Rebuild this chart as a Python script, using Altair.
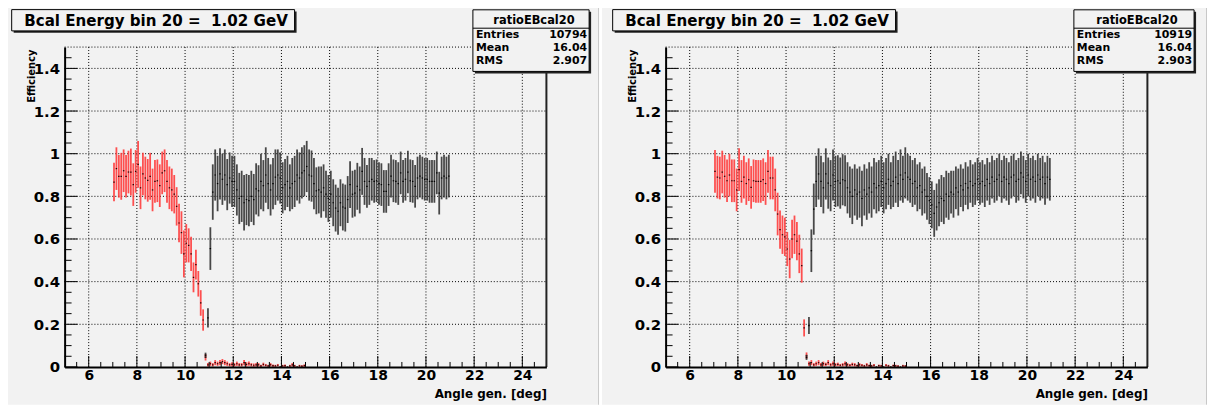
import altair as alt
import pandas as pd

BIN_W = 0.1
X_TICKS = [6, 8, 10, 12, 14, 16, 18, 20, 22, 24]
Y_TICKS = [0, 0.2, 0.4, 0.6, 0.8, 1.0, 1.2, 1.4]
X_DOMAIN = [5, 25]
Y_DOMAIN = [0, 1.5]

TITLES = ["Bcal Energy bin 20 =\u00a0\u00a01.02 GeV", "Bcal Energy bin 20 =\u00a0\u00a01.02 GeV"]
STATS_NAME = ["ratioEBcal20", "ratioEBcal20"]
STATS_LABELS = ["Entries", "Mean", "RMS"]
STATS_VALUES = [["10794", "16.04", "2.907"], ["10919", "16.04", "2.903"]]
X_TITLE = "Angle gen. [deg]"
Y_TITLE = "Efficiency"

# ---------------- left panel ----------------
L_RED_START = 7.05
L_RED = [0.867, 0.93, 0.894, 0.894, 0.92, 0.894, 0.914, 0.914, 0.855, 0.917,
         0.95, 0.84, 0.905, 0.886, 0.875, 0.894, 0.83, 0.87, 0.873, 0.85,
         0.91, 0.92, 0.87, 0.84, 0.83, 0.81, 0.753, 0.675, 0.63, 0.53,
         0.58, 0.57, 0.53, 0.42, 0.48, 0.39, 0.30, 0.22, 0.045,
         0.01, 0.015, 0.01, 0.02, 0.015, 0.02, 0.025, 0.02, 0.015, 0.01,
         0.012, 0.01, 0.015, 0.01, 0.01, 0.02, 0.012, 0.015, 0.01, 0.008,
         0.01, 0.01, 0.005, 0.012, 0.008, 0.005, 0.01, 0.006, 0.005, 0.008,
         0.0, 0.005, 0.006, 0.0, 0.005, 0.01, 0.005, 0.0, 0.005, 0.004, 0.006]
L_RED_ERR = [0.09, 0.1, 0.1, 0.11, 0.1, 0.1, 0.1, 0.11, 0.1, 0.1,
             0.11, 0.1, 0.1, 0.1, 0.1, 0.11, 0.1, 0.1, 0.1, 0.1,
             0.1, 0.1, 0.1, 0.1, 0.1, 0.09, 0.09, 0.09, 0.1, 0.11,
             0.09, 0.08, 0.08, 0.07, 0.07, 0.06, 0.06, 0.05, 0.015,
             0.008, 0.01, 0.008, 0.012, 0.01, 0.012, 0.012, 0.012, 0.01, 0.008,
             0.01, 0.008, 0.01, 0.008, 0.008, 0.012, 0.01, 0.01, 0.008, 0.008,
             0.008, 0.008, 0.005, 0.008, 0.006, 0.005, 0.008, 0.006, 0.005, 0.006,
             0.0, 0.005, 0.006, 0.0, 0.005, 0.008, 0.005, 0.0, 0.005, 0.004, 0.006]
L_BLK_START = 10.85
L_BLK = [0.055, 0.23, 0.555, 0.82, 0.90, 0.86, 0.905, 0.88, 0.90, 0.855,
         0.886, 0.87, 0.87, 0.83, 0.79, 0.80, 0.77, 0.785, 0.78, 0.80,
         0.785, 0.835, 0.826, 0.87, 0.85, 0.90, 0.86, 0.83, 0.86, 0.89,
         0.90, 0.886, 0.84, 0.855, 0.87, 0.84, 0.86, 0.87, 0.90, 0.886,
         0.91, 0.92, 0.94, 0.90, 0.895, 0.86, 0.826, 0.83, 0.82, 0.84,
         0.81, 0.79, 0.81, 0.77, 0.745, 0.73, 0.77, 0.75, 0.745, 0.785,
         0.855, 0.81, 0.815, 0.847, 0.83, 0.917, 0.87, 0.847, 0.87, 0.88,
         0.87, 0.873, 0.86, 0.855, 0.823, 0.823, 0.855, 0.895, 0.873, 0.87,
         0.86, 0.91, 0.87, 0.88, 0.914, 0.873, 0.87, 0.847, 0.886, 0.895,
         0.886, 0.88, 0.88, 0.87, 0.87, 0.87, 0.91, 0.815, 0.886, 0.895,
         0.886, 0.895]
L_BLK_ERR = [0.012, 0.045, 0.1, 0.13, 0.12, 0.13, 0.12, 0.12, 0.12, 0.12,
             0.12, 0.12, 0.12, 0.12, 0.12, 0.12, 0.13, 0.12, 0.12, 0.12,
             0.12, 0.12, 0.12, 0.13, 0.12, 0.13, 0.12, 0.12, 0.12, 0.13,
             0.12, 0.12, 0.12, 0.12, 0.12, 0.11, 0.12, 0.12, 0.12, 0.12,
             0.12, 0.12, 0.12, 0.12, 0.12, 0.12, 0.11, 0.11, 0.12, 0.11,
             0.11, 0.11, 0.11, 0.11, 0.11, 0.11, 0.11, 0.11, 0.11, 0.11,
             0.11, 0.11, 0.11, 0.11, 0.11, 0.11, 0.11, 0.1, 0.11, 0.1,
             0.1, 0.1, 0.1, 0.1, 0.1, 0.1, 0.1, 0.1, 0.1, 0.1,
             0.1, 0.1, 0.1, 0.1, 0.1, 0.1, 0.1, 0.1, 0.1, 0.1,
             0.1, 0.1, 0.1, 0.1, 0.1, 0.1, 0.1, 0.1, 0.1, 0.1,
             0.1, 0.1]

# ---------------- right panel ----------------
R_RED_START = 7.05
R_RED = [0.917, 0.89, 0.886, 0.914, 0.894, 0.873, 0.90, 0.873, 0.873, 0.83,
         0.925, 0.87, 0.89, 0.86, 0.878, 0.842, 0.873, 0.87, 0.87, 0.87,
         0.878, 0.86, 0.917, 0.886, 0.886, 0.83, 0.717, 0.644, 0.62, 0.61,
         0.553, 0.506, 0.60, 0.62, 0.59, 0.53, 0.475, 0.183, 0.053,
         0.015, 0.02, 0.01, 0.015, 0.02, 0.01, 0.015, 0.012, 0.02, 0.01,
         0.015, 0.01, 0.012, 0.008, 0.01, 0.015, 0.01, 0.008, 0.012, 0.01,
         0.006, 0.01, 0.008, 0.005, 0.01, 0.006, 0.005, 0.008, 0.0, 0.006,
         0.005, 0.0, 0.008, 0.005, 0.0, 0.006, 0.005, 0.004, 0.0, 0.005, 0.004]
R_RED_ERR = [0.1, 0.1, 0.1, 0.1, 0.1, 0.1, 0.1, 0.1, 0.1, 0.1,
             0.1, 0.1, 0.1, 0.1, 0.1, 0.1, 0.1, 0.1, 0.1, 0.1,
             0.1, 0.1, 0.1, 0.1, 0.1, 0.1, 0.1, 0.09, 0.09, 0.09,
             0.08, 0.09, 0.09, 0.09, 0.09, 0.09, 0.08, 0.04, 0.015,
             0.01, 0.012, 0.008, 0.01, 0.012, 0.008, 0.01, 0.008, 0.012, 0.008,
             0.01, 0.008, 0.008, 0.006, 0.008, 0.01, 0.008, 0.006, 0.008, 0.008,
             0.005, 0.008, 0.006, 0.005, 0.008, 0.005, 0.005, 0.006, 0.0, 0.005,
             0.005, 0.0, 0.006, 0.005, 0.0, 0.005, 0.005, 0.004, 0.0, 0.005, 0.004]
R_BLK_START = 10.85
R_BLK = [0.045, 0.194, 0.545, 0.74, 0.87, 0.905, 0.87, 0.84, 0.905, 0.862,
         0.85, 0.90, 0.87, 0.873, 0.862, 0.878, 0.873,
         0.84, 0.82, 0.80, 0.83, 0.81, 0.82, 0.79, 0.83, 0.81, 0.84,
         0.82, 0.86, 0.84, 0.85, 0.87, 0.84, 0.86, 0.88, 0.85, 0.87,
         0.89, 0.86, 0.90, 0.88, 0.91, 0.89, 0.88, 0.86, 0.87, 0.84,
         0.85, 0.82, 0.83, 0.80, 0.78, 0.76, 0.72, 0.75, 0.77, 0.79,
         0.78, 0.81, 0.80, 0.82, 0.81, 0.84, 0.82, 0.85, 0.83, 0.86,
         0.84, 0.87, 0.85, 0.86, 0.88, 0.86, 0.87, 0.85, 0.88, 0.86,
         0.89, 0.87, 0.88, 0.90, 0.87, 0.89, 0.88, 0.86, 0.89, 0.90,
         0.87, 0.88, 0.91, 0.89, 0.87, 0.90, 0.88, 0.89, 0.87, 0.90,
         0.88, 0.89, 0.86, 0.89, 0.88]
R_BLK_ERR = [0.012, 0.04, 0.1, 0.12, 0.12, 0.12, 0.12, 0.12, 0.12, 0.12,
             0.12, 0.12, 0.12, 0.12, 0.12, 0.12, 0.12,
             0.12, 0.12, 0.13, 0.12, 0.12, 0.12, 0.13, 0.12, 0.12, 0.12,
             0.12, 0.12, 0.12, 0.12, 0.12, 0.12, 0.12, 0.12, 0.11, 0.12,
             0.12, 0.11, 0.12, 0.11, 0.12, 0.11, 0.11, 0.11, 0.11, 0.11,
             0.11, 0.11, 0.11, 0.11, 0.11, 0.11, 0.11, 0.11, 0.11, 0.11,
             0.11, 0.11, 0.11, 0.1, 0.11, 0.1, 0.11, 0.1, 0.1, 0.1,
             0.1, 0.1, 0.1, 0.1, 0.1, 0.1, 0.1, 0.1, 0.1, 0.1,
             0.1, 0.1, 0.1, 0.1, 0.1, 0.1, 0.1, 0.1, 0.1, 0.1,
             0.1, 0.1, 0.1, 0.1, 0.1, 0.1, 0.1, 0.1, 0.1, 0.1,
             0.1, 0.1, 0.1, 0.1, 0.1]

W, H = 485, 322
BG = "#f2f2f2"
FONT = "DejaVu Sans"


def series_df(start, vals, errs):
    rows = []
    for i, (v, e) in enumerate(zip(vals, errs)):
        c = round(start + i * BIN_W, 3)
        rows.append(dict(x=c, xl=c - 0.03, xr=c + 0.03, v=v,
                         lo=max(0.0, v - e), hi=min(1.5, v + e)))
    return pd.DataFrame(rows)


XS = alt.Scale(domain=X_DOMAIN, nice=False, zero=False)
YS = alt.Scale(domain=Y_DOMAIN, nice=False, zero=False)
XAX = alt.Axis(values=X_TICKS, title=X_TITLE, grid=False, ticks=False,
               domain=True, domainColor="black", domainWidth=2,
               labelFont=FONT, labelFontWeight="bold", labelFontSize=14,
               labelColor="black", labelPadding=2, labelFlush=False,
               labelOverlap=False, titleFont=FONT, titleFontWeight="bold",
               titleFontSize=12, titleColor="black", titleAnchor="end",
               titleAlign="right", titleBaseline="alphabetic",
               titleX=W, titleY=31, zindex=1)
YAX = alt.Axis(values=Y_TICKS, title=Y_TITLE, grid=False, ticks=False,
               domain=True, domainColor="black", domainWidth=2,
               labelExpr="datum.value == 0 ? '0' : (datum.value == 1 ? '1' : format(datum.value, '.1f'))",
               labelFont=FONT, labelFontWeight="bold", labelFontSize=15,
               labelColor="black", labelPadding=5, labelFlush=False,
               labelOverlap=False, titleFont=FONT, titleFontWeight="bold",
               titleFontSize=10, titleColor="black", titleAngle=270,
               titleAlign="right", titleBaseline="alphabetic",
               titleX=-30, titleY=2, zindex=1)

ONE = pd.DataFrame({"a": [0]})


def box(x1, x2, y1, y2, fill, stroke=None, sw=1):
    kw = dict(fill=fill)
    if stroke is not None:
        kw.update(stroke=stroke, strokeWidth=sw)
    return alt.Chart(ONE).mark_rect(**kw).encode(
        x=alt.value(x1), x2=alt.value(x2), y=alt.value(y1), y2=alt.value(y2))


def text(t, x, y, size, align="left"):
    return alt.Chart(ONE).mark_text(
        text=t, font=FONT, fontWeight="bold", fontSize=size, align=align,
        baseline="alphabetic", color="black").encode(
        x=alt.value(x), y=alt.value(y))


def hline(x1, x2, y, color="black", sw=1, dash=None):
    kw = dict(color=color, strokeWidth=sw)
    if dash is not None:
        kw.update(strokeDash=dash)
    return alt.Chart(ONE).mark_rule(**kw).encode(
        x=alt.value(x1), x2=alt.value(x2), y=alt.value(y))


def vline(x, y1, y2, color="black", sw=1):
    return alt.Chart(ONE).mark_rule(color=color, strokeWidth=sw).encode(
        x=alt.value(x), y=alt.value(y1), y2=alt.value(y2))


def panel(idx, left_off, panel_w, red_start, red, red_err, blk_start, blk, blk_err, sbox):
    layers = []
    # pad background
    layers.append(box(-left_off, panel_w - left_off, -45, 360, BG))
    # dotted grid
    gx = pd.DataFrame({"x": X_TICKS})
    layers.append(alt.Chart(gx).mark_rule(color="black", strokeWidth=1, strokeDash=[1, 2]).encode(
        x=alt.X("x:Q", scale=XS, axis=XAX), y=alt.value(0), y2=alt.value(H)))
    gy = pd.DataFrame({"v": Y_TICKS[1:]})
    layers.append(alt.Chart(gy).mark_rule(color="black", strokeWidth=1, strokeDash=[1, 2]).encode(
        y=alt.Y("v:Q", scale=YS, axis=YAX), x=alt.value(0), x2=alt.value(W)))
    layers.append(hline(0, W, 0, "black", 1, [1, 2]))
    # data
    rd = series_df(red_start, red, red_err)
    bd = series_df(blk_start, blk, blk_err)
    for d, col, mcol in ((rd, "#ff3333", "#300000"), (bd, "#2a2a2a", "#000000")):
        layers.append(alt.Chart(d).mark_rule(color=col, strokeWidth=1.8, opacity=0.85).encode(
            x=alt.X("x:Q", scale=XS, axis=XAX),
            y=alt.Y("lo:Q", scale=YS, axis=YAX), y2="hi:Q"))
        layers.append(alt.Chart(d).mark_rule(color=mcol, strokeWidth=1.2).encode(
            x=alt.X("xl:Q", scale=XS, axis=XAX), x2="xr:Q",
            y=alt.Y("v:Q", scale=YS, axis=YAX)))
    # inner ticks
    xmaj = pd.DataFrame({"x": X_TICKS})
    xmin = pd.DataFrame({"x": [v / 2 for v in range(11, 50) if v % 4 != 0]})
    ymaj = pd.DataFrame({"v": Y_TICKS})
    ymin = pd.DataFrame({"v": [round(i * 0.05, 3) for i in range(1, 30) if i % 4 != 0]})
    layers.append(alt.Chart(xmaj).mark_rule(color="black", strokeWidth=1).encode(
        x=alt.X("x:Q", scale=XS, axis=XAX), y=alt.value(H), y2=alt.value(H - 11)))
    layers.append(alt.Chart(xmin).mark_rule(color="black", strokeWidth=1).encode(
        x=alt.X("x:Q", scale=XS, axis=XAX), y=alt.value(H), y2=alt.value(H - 5)))
    layers.append(alt.Chart(ymaj).mark_rule(color="black", strokeWidth=1).encode(
        y=alt.Y("v:Q", scale=YS, axis=YAX), x=alt.value(0), x2=alt.value(13)))
    layers.append(alt.Chart(ymin).mark_rule(color="black", strokeWidth=1).encode(
        y=alt.Y("v:Q", scale=YS, axis=YAX), x=alt.value(0), x2=alt.value(7)))
    # right frame
    layers.append(vline(W, 0, H, "#222222", 2))
    # title box
    layers.append(box(-51.3, 233.5, -35.7, -14.3, "#222222"))
    layers.append(box(-53.3, 231.5, -37.7, -16.3, BG, "#000000", 1))
    layers.append(text(TITLES[idx], 92, -21.7, 15.2, "center"))
    # stats box
    sx1, sx2 = sbox
    layers.append(box(sx1 + 2, sx2 + 2, -35.5, 26.5, "#222222"))
    layers.append(box(sx1, sx2, -37.5, 24.5, BG, "#000000", 1))
    layers.append(hline(sx1, sx2, -19))
    layers.append(text(STATS_NAME[idx], (sx1 + sx2) / 2 + 3, -23.5, 11.5, "center"))
    for k, yy in enumerate([-9, 4, 17]):
        layers.append(text(STATS_LABELS[k], sx1 + 3, yy, 11, "left"))
        layers.append(text(STATS_VALUES[idx][k], sx2 - 2, yy, 11, "right"))
    # pad edge
    layers.append(vline(panel_w - left_off - 0.5, -45, 360, "#c8c8c8", 1))
    return alt.layer(*layers).properties(width=W, height=H)


left = panel(0, 65, 603, L_RED_START, L_RED, L_RED_ERR, L_BLK_START, L_BLK, L_BLK_ERR, (411, 528))
right = panel(1, 64, 609, R_RED_START, R_RED, R_RED_ERR, R_BLK_START, R_BLK, R_BLK_ERR, (411, 532))

chart = alt.hconcat(left, right, spacing=3).properties(
    padding={"left": -8, "top": -8, "right": 0, "bottom": 0}
).configure_view(stroke=None)

chart.save("out.html", embed_options={"renderer": "svg", "actions": False})
